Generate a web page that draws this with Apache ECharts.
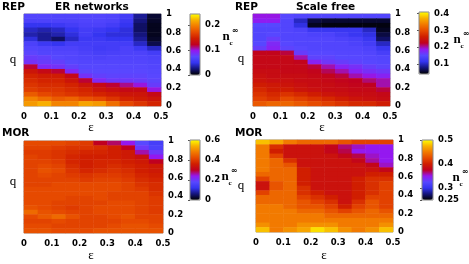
<!DOCTYPE html>
<html><head><meta charset="utf-8">
<script src="https://cdn.jsdelivr.net/npm/echarts@6/dist/echarts.min.js"></script>
<style>html,body{margin:0;padding:0;background:#fff}#c{width:469px;height:264px}</style>
</head><body><div id="c"></div>
<script>
// cell centres
const EPS = [0.025,0.075,0.125,0.175,0.225,0.275,0.325,0.375,0.425,0.475];
const Q = [0.025,0.075,0.125,0.175,0.225,0.275,0.325,0.375,0.425,0.475,0.525,0.575,0.625,0.675,0.725,0.775,0.825,0.875,0.925,0.975];

// rows listed from q=0.975 (top) down to q=0.025 (bottom)
const erRep = [
 [0.07,0.07,0.068,0.068,0.07,0.07,0.068,0.06,0.03,0.01],
 [0.065,0.066,0.066,0.066,0.068,0.068,0.066,0.055,0.025,0.008],
 [0.05,0.05,0.055,0.06,0.065,0.065,0.06,0.05,0.02,0.006],
 [0.04,0.035,0.04,0.05,0.06,0.055,0.05,0.045,0.02,0.006],
 [0.035,0.03,0.035,0.045,0.06,0.05,0.045,0.045,0.025,0.006],
 [0.045,0.03,0.02,0.04,0.055,0.055,0.05,0.05,0.03,0.008],
 [0.065,0.055,0.05,0.06,0.06,0.06,0.06,0.06,0.04,0.015],
 [0.07,0.068,0.066,0.066,0.062,0.058,0.06,0.065,0.055,0.04],
 [0.075,0.07,0.07,0.07,0.066,0.062,0.064,0.066,0.066,0.06],
 [0.08,0.078,0.072,0.07,0.068,0.066,0.068,0.068,0.068,0.066],
 [0.085,0.08,0.078,0.072,0.07,0.07,0.07,0.07,0.07,0.068],
 [0.12,0.09,0.085,0.078,0.072,0.072,0.072,0.072,0.072,0.07],
 [0.14,0.13,0.12,0.09,0.075,0.074,0.074,0.074,0.074,0.072],
 [0.15,0.145,0.145,0.13,0.085,0.078,0.076,0.076,0.076,0.074],
 [0.155,0.15,0.15,0.14,0.12,0.09,0.082,0.082,0.08,0.076],
 [0.16,0.155,0.155,0.15,0.14,0.13,0.12,0.11,0.1,0.08],
 [0.165,0.16,0.16,0.155,0.15,0.14,0.135,0.13,0.13,0.1],
 [0.18,0.17,0.165,0.16,0.155,0.15,0.145,0.14,0.14,0.13],
 [0.2,0.19,0.18,0.185,0.175,0.17,0.16,0.15,0.145,0.14],
 [0.21,0.22,0.2,0.2,0.215,0.21,0.19,0.17,0.16,0.15]
];
const sfRep = [
 [0.19,0.19,0.15,0.145,0.145,0.145,0.145,0.145,0.145,0.145],
 [0.185,0.185,0.145,0.1,0.06,0.055,0.055,0.055,0.055,0.055],
 [0.15,0.15,0.145,0.11,0.05,0.045,0.045,0.045,0.045,0.045],
 [0.145,0.145,0.145,0.14,0.12,0.12,0.12,0.12,0.1,0.05],
 [0.145,0.15,0.145,0.145,0.14,0.14,0.13,0.12,0.11,0.06],
 [0.145,0.16,0.145,0.145,0.145,0.145,0.14,0.135,0.12,0.07],
 [0.15,0.175,0.15,0.145,0.145,0.145,0.145,0.14,0.13,0.1],
 [0.16,0.18,0.155,0.15,0.145,0.145,0.145,0.145,0.14,0.12],
 [0.23,0.23,0.22,0.16,0.15,0.15,0.148,0.148,0.145,0.135],
 [0.235,0.235,0.235,0.2,0.155,0.155,0.15,0.15,0.148,0.145],
 [0.235,0.235,0.235,0.23,0.18,0.165,0.16,0.155,0.15,0.148],
 [0.235,0.235,0.235,0.235,0.22,0.2,0.18,0.17,0.16,0.155],
 [0.24,0.24,0.235,0.235,0.23,0.215,0.2,0.18,0.17,0.165],
 [0.245,0.24,0.24,0.24,0.235,0.23,0.22,0.2,0.19,0.18],
 [0.25,0.245,0.245,0.24,0.24,0.235,0.23,0.225,0.21,0.2],
 [0.26,0.255,0.25,0.245,0.24,0.24,0.235,0.23,0.225,0.2],
 [0.27,0.26,0.26,0.25,0.245,0.24,0.24,0.235,0.235,0.22],
 [0.28,0.27,0.28,0.27,0.26,0.25,0.245,0.24,0.24,0.235],
 [0.29,0.28,0.3,0.29,0.28,0.27,0.26,0.25,0.245,0.24],
 [0.31,0.32,0.32,0.31,0.3,0.29,0.28,0.27,0.27,0.26]
];
const erMor = [
 [0.42,0.42,0.42,0.41,0.4,0.3,0.28,0.24,0.18,0.15],
 [0.41,0.41,0.4,0.39,0.39,0.38,0.36,0.3,0.2,0.16],
 [0.4,0.4,0.39,0.38,0.37,0.37,0.36,0.35,0.26,0.2],
 [0.41,0.4,0.39,0.37,0.36,0.36,0.36,0.35,0.33,0.24],
 [0.41,0.41,0.4,0.37,0.36,0.37,0.37,0.36,0.35,0.3],
 [0.41,0.42,0.41,0.38,0.36,0.37,0.38,0.37,0.36,0.35],
 [0.41,0.43,0.42,0.39,0.37,0.38,0.39,0.38,0.36,0.35],
 [0.41,0.42,0.41,0.4,0.39,0.4,0.4,0.39,0.37,0.36],
 [0.41,0.41,0.41,0.41,0.4,0.41,0.41,0.4,0.38,0.37],
 [0.41,0.41,0.42,0.42,0.42,0.42,0.42,0.41,0.39,0.38],
 [0.42,0.42,0.42,0.42,0.42,0.42,0.42,0.41,0.4,0.38],
 [0.42,0.42,0.42,0.42,0.42,0.42,0.41,0.41,0.41,0.39],
 [0.42,0.42,0.42,0.41,0.41,0.42,0.41,0.41,0.41,0.4],
 [0.42,0.42,0.41,0.41,0.41,0.41,0.42,0.42,0.41,0.4],
 [0.43,0.42,0.41,0.4,0.41,0.42,0.42,0.42,0.41,0.4],
 [0.46,0.43,0.42,0.41,0.41,0.42,0.42,0.42,0.41,0.4],
 [0.42,0.44,0.46,0.43,0.41,0.41,0.42,0.43,0.41,0.41],
 [0.41,0.41,0.42,0.41,0.41,0.41,0.41,0.42,0.42,0.41],
 [0.42,0.42,0.41,0.41,0.41,0.41,0.42,0.43,0.43,0.42],
 [0.43,0.43,0.42,0.42,0.42,0.43,0.43,0.43,0.43,0.43]
];
const sfMor = [
 [0.48,0.47,0.45,0.44,0.44,0.44,0.43,0.42,0.42,0.42],
 [0.45,0.41,0.39,0.39,0.39,0.38,0.365,0.355,0.35,0.35],
 [0.45,0.4,0.39,0.39,0.39,0.38,0.37,0.35,0.35,0.35],
 [0.45,0.42,0.39,0.39,0.39,0.39,0.38,0.37,0.355,0.35],
 [0.45,0.44,0.41,0.39,0.39,0.39,0.39,0.38,0.36,0.35],
 [0.45,0.44,0.43,0.39,0.39,0.39,0.39,0.39,0.38,0.355],
 [0.45,0.44,0.44,0.4,0.39,0.39,0.39,0.39,0.39,0.38],
 [0.44,0.44,0.44,0.4,0.39,0.39,0.39,0.39,0.4,0.4],
 [0.42,0.44,0.44,0.4,0.39,0.39,0.39,0.4,0.41,0.41],
 [0.39,0.43,0.44,0.4,0.39,0.39,0.39,0.4,0.41,0.42],
 [0.39,0.43,0.44,0.41,0.39,0.39,0.39,0.4,0.41,0.42],
 [0.42,0.44,0.44,0.41,0.4,0.39,0.39,0.4,0.41,0.42],
 [0.44,0.44,0.44,0.42,0.41,0.4,0.39,0.4,0.42,0.42],
 [0.44,0.44,0.44,0.43,0.42,0.41,0.39,0.41,0.43,0.42],
 [0.45,0.45,0.44,0.43,0.43,0.42,0.4,0.42,0.43,0.42],
 [0.45,0.45,0.45,0.44,0.44,0.43,0.42,0.43,0.44,0.43],
 [0.45,0.45,0.45,0.45,0.45,0.44,0.44,0.44,0.44,0.44],
 [0.45,0.45,0.45,0.45,0.45,0.45,0.45,0.45,0.45,0.45],
 [0.46,0.45,0.45,0.46,0.46,0.46,0.45,0.45,0.45,0.46],
 [0.48,0.45,0.46,0.47,0.49,0.48,0.46,0.45,0.46,0.48]
];

const colorbarMin = [0, 0.04, 0, 0.25];
const colorbarMax = [0.245, 0.41, 0.6, 0.5];
const colorbarSplit = [2, 4, 3, 2];
const epsTicks = {min:0, max:0.5, interval:0.1};
const qTicks = {min:0, max:1, interval:0.2};
const methodNames = ['REP','REP','MOR','MOR'];
const netNames = ['ER networks','Scale free','',''];

const PAL = ['#000000','#14147a','#3434f0','#5848ff','#9418f0','#c00020','#d01e00','#e64a00','#f27a00','#f8b000','#ffff00'];

const panels = [
 {d:erRep, g:{left:24,top:14,width:137,height:92}, cb:{left:190,top:14,width:10,height:61}},
 {d:sfRep, g:{left:253,top:14,width:137,height:92}, cb:{left:419,top:12,width:10,height:62}},
 {d:erMor, g:{left:24,top:141,width:139,height:92}, cb:{left:190,top:140,width:10,height:60}},
 {d:sfMor, g:{left:256,top:140,width:137,height:92}, cb:{left:422,top:140,width:11,height:60}}
];

const lblFont = {fontFamily:'DejaVu Sans', fontWeight:'bold', fontSize:8.5, color:'#000'};
const grid=[], xAxis=[], yAxis=[], series=[], visualMap=[];
panels.forEach((p,i)=>{
  const gi = grid.length;
  grid.push(Object.assign({show:true, borderColor:'#999', borderWidth:1, backgroundColor:'transparent'}, p.g));
  const xc = xAxis.length;
  xAxis.push({gridIndex:gi, type:'category', data:EPS, show:false});
  xAxis.push({gridIndex:gi, type:'value', position:'bottom', min:epsTicks.min, max:epsTicks.max, interval:epsTicks.interval,
    axisLine:{show:false}, axisTick:{show:false}, splitLine:{show:false}, axisLabel:Object.assign({margin:6}, lblFont)});
  const yc = yAxis.length;
  yAxis.push({gridIndex:gi, type:'category', data:Q, show:false});
  yAxis.push({gridIndex:gi, type:'value', position:'right', min:qTicks.min, max:qTicks.max, interval:qTicks.interval,
    axisLine:{show:false}, axisTick:{show:false}, splitLine:{show:false}, axisLabel:Object.assign({margin:5}, lblFont)});
  const data=[];
  p.d.forEach((row,r)=>row.forEach((v,c)=>data.push([c, Q.length-1-r, v])));
  series.push({type:'heatmap', xAxisIndex:xc, yAxisIndex:yc, data, emphasis:{disabled:true}, itemStyle:{borderWidth:0}});
  visualMap.push({type:'continuous', seriesIndex:i, min:colorbarMin[i], max:colorbarMax[i], orient:'vertical',
    left:p.cb.left, top:p.cb.top, itemWidth:p.cb.width, itemHeight:p.cb.height, calculable:false, padding:0,
    text:null, hoverLink:false, inRange:{color:PAL}});
  // colourbar axis
  const cg = grid.length;
  grid.push(Object.assign({show:true, borderColor:'#888', borderWidth:1, backgroundColor:'transparent', z:5}, p.cb));
  xAxis.push({gridIndex:cg, type:'value', show:false, min:0, max:1});
  yAxis.push({gridIndex:cg, type:'value', position:'right', min:colorbarMin[i], max:colorbarMax[i], splitNumber:colorbarSplit[i],
    axisLine:{show:false}, axisTick:{show:true, inside:true, length:2, lineStyle:{color:'#555'}}, splitLine:{show:false},
    axisLabel:Object.assign({margin:5, showMinLabel: i===1 ? false : true, showMaxLabel: i===0||i===1 ? false : true}, lblFont)});
});

const txt = (t,x,y,font,align)=>({type:'text', x, y, style:{text:t, font, fill:'#000', textAlign:align||'left', textVerticalAlign:'middle'}});
const tFont = 'bold 10.5px "DejaVu Sans"';
const sFont = '13px "Liberation Serif"';
const graphic = [
  txt(methodNames[0],2,7,tFont), txt(netNames[0],55,7,tFont),
  txt(methodNames[1],235,7,tFont), txt(netNames[1],296,7,tFont),
  txt(methodNames[2],2,133,tFont), txt(methodNames[3],235,133,tFont),
  txt('q',13,60,sFont,'center'), txt('q',241,59,sFont,'center'),
  txt('q',13,182,sFont,'center'), txt('q',241,186,sFont,'center'),
  txt('ε',91,128,sFont,'center'), txt('ε',322,128,sFont,'center'),
  txt('ε',91,256,sFont,'center'), txt('ε',324,256,sFont,'center')
];
[[226,37],[457,40],[225,177],[456,178]].forEach(([x,y])=>{
  graphic.push(txt('n',x,y,'bold 13px "Liberation Serif"','center'));
  graphic.push(txt('c',x+5,y+6,'bold 7px "Liberation Serif"','center'));
  graphic.push(txt('∞',x+9,y-6,'bold 8px "DejaVu Sans"','center'));
});

const chart = echarts.init(document.getElementById('c'), null, {renderer:'canvas'});
chart.setOption({animation:false, backgroundColor:'#fff', grid, xAxis, yAxis, series, visualMap, graphic});
</script></body></html>
